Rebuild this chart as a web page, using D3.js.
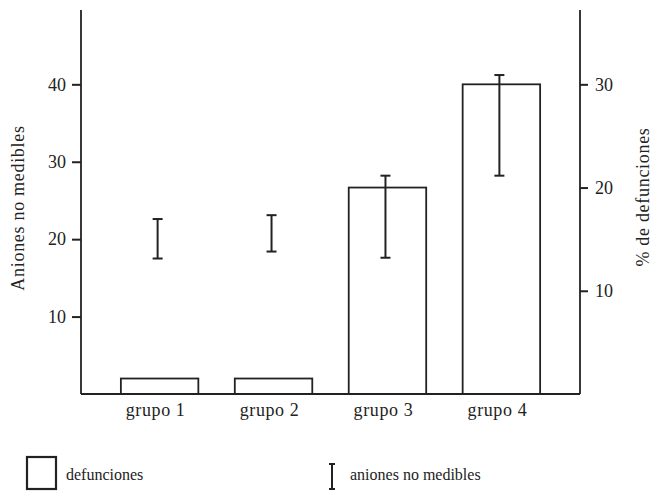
<!DOCTYPE html>
<html>
<head>
<meta charset="utf-8">
<script src="https://cdn.jsdelivr.net/npm/d3@7"></script>
<style>
  body { margin: 0; background: #fff; }
</style>
</head>
<body>
<div class="canvas"></div>
<script>
// data
const groups = ['grupo 1', 'grupo 2', 'grupo 3', 'grupo 4']
const defunciones = [1.5, 1.5, 20, 30]          // % de defunciones (right axis)
const anionesLow = [17.5, 18.4, 17.6, 28.2]     // aniones no medibles, lower end
const anionesHigh = [22.6, 23.1, 28.2, 41.2]    // aniones no medibles, upper end
const leftTicks = [10, 20, 30, 40]
const rightTicks = [10, 20, 30]

const width = 653
const height = 493
const margin = {top: 10, right: 73, bottom: 99, left: 81}
const graphWidth = width - margin.left - margin.right
const graphHeight = height - margin.top - margin.bottom
const ink = '#222'
const serif = '"Liberation Serif", "Times New Roman", serif'

const svg = d3.select('.canvas')
              .append('svg')
              .attr('width', width)
              .attr('height', height)

const graph = svg.append('g')
                 .attr('transform', `translate(${margin.left}, ${margin.top})`)

//scales
const xScale = d3.scaleBand()
                 .domain(groups)
                 .range([0, graphWidth])
                 .paddingInner(0.32)
                 .paddingOuter(0.35)
const yLeft = d3.scaleLinear()
                .domain([0, 49.6])
                .range([graphHeight, 0])
const yRight = d3.scaleLinear()
                 .domain([0, 37.2])
                 .range([graphHeight, 0])

//bars
graph.selectAll('rect.bar')
     .data(defunciones)
     .enter()
     .append('rect')
     .attr('class', 'bar')
     .attr('x', (d, i) => xScale(groups[i]))
     .attr('y', d => yRight(d))
     .attr('width', xScale.bandwidth())
     .attr('height', d => graphHeight - yRight(d))
     .attr('fill', '#fff')
     .attr('stroke', ink)
     .attr('stroke-width', 1.8)

//error bars
const capW = 10
const errG = graph.selectAll('g.err')
                  .data(groups)
                  .enter()
                  .append('g')
                  .attr('class', 'err')
                  .attr('stroke', ink)
                  .attr('stroke-width', 2)
const cx = d => xScale(d) + xScale.bandwidth() / 2 - 2
errG.append('line')
    .attr('x1', cx).attr('x2', cx)
    .attr('y1', (d, i) => yLeft(anionesLow[i]))
    .attr('y2', (d, i) => yLeft(anionesHigh[i]))
errG.append('line')
    .attr('x1', d => cx(d) - capW / 2).attr('x2', d => cx(d) + capW / 2)
    .attr('y1', (d, i) => yLeft(anionesLow[i]))
    .attr('y2', (d, i) => yLeft(anionesLow[i]))
errG.append('line')
    .attr('x1', d => cx(d) - capW / 2).attr('x2', d => cx(d) + capW / 2)
    .attr('y1', (d, i) => yLeft(anionesHigh[i]))
    .attr('y2', (d, i) => yLeft(anionesHigh[i]))

//axes
const xAxis = d3.axisBottom(xScale).tickSize(0).tickPadding(9)
const leftAxis = d3.axisLeft(yLeft).tickValues(leftTicks).tickSize(9).tickPadding(6)
const rightAxis = d3.axisRight(yRight).tickValues(rightTicks).tickSize(8).tickPadding(7)

const xAxisGroup = graph.append('g')
                        .attr('transform', `translate(0, ${graphHeight})`)
                        .call(xAxis)
const leftAxisGroup = graph.append('g').call(leftAxis)
const rightAxisGroup = graph.append('g')
                            .attr('transform', `translate(${graphWidth}, 0)`)
                            .call(rightAxis)

;[xAxisGroup, leftAxisGroup, rightAxisGroup].forEach(g => {
    g.attr('font-family', serif)
    g.select('.domain').attr('stroke', ink).attr('stroke-width', 1.8)
    g.selectAll('.tick line').attr('stroke', ink).attr('stroke-width', 2)
    g.selectAll('text').attr('font-size', 18).attr('fill', ink)
})
xAxisGroup.selectAll('text')
          .attr('letter-spacing', 0.6)
          .attr('dx', -4)
// axis lines run the full height, no end caps
leftAxisGroup.select('.domain').attr('d', `M0,${graphHeight}V0`)
rightAxisGroup.select('.domain').attr('d', `M0,${graphHeight}V0`)
xAxisGroup.select('.domain').attr('d', `M0,0H${graphWidth}`)

//axis titles
svg.append('text')
   .attr('transform', `translate(24, 208) rotate(-90)`)
   .attr('text-anchor', 'middle')
   .attr('font-family', serif)
   .attr('font-size', 18)
   .attr('letter-spacing', 0.7)
   .attr('fill', ink)
   .text('Aniones no medibles')
svg.append('text')
   .attr('transform', `translate(649, 197) rotate(-90)`)
   .attr('text-anchor', 'middle')
   .attr('font-family', serif)
   .attr('font-size', 18)
   .attr('letter-spacing', 0.7)
   .attr('fill', ink)
   .text('% de defunciones')

//legend
const legend = svg.append('g')
                  .attr('font-family', serif)
                  .attr('fill', ink)
legend.append('rect')
      .attr('x', 27).attr('y', 457)
      .attr('width', 29).attr('height', 32)
      .attr('fill', '#fff')
      .attr('stroke', ink)
      .attr('stroke-width', 2.2)
legend.append('text')
      .attr('x', 66).attr('y', 480)
      .attr('font-size', 16)
      .text('defunciones')
const lg = legend.append('g').attr('stroke', ink).attr('stroke-width', 2)
lg.append('line').attr('x1', 332).attr('x2', 332).attr('y1', 464).attr('y2', 489)
lg.append('line').attr('x1', 329).attr('x2', 335).attr('y1', 464).attr('y2', 464)
lg.append('line').attr('x1', 329).attr('x2', 335).attr('y1', 489).attr('y2', 489)
legend.append('text')
      .attr('x', 350).attr('y', 480)
      .attr('font-size', 16)
      .text('aniones no medibles')
</script>
</body>
</html>
